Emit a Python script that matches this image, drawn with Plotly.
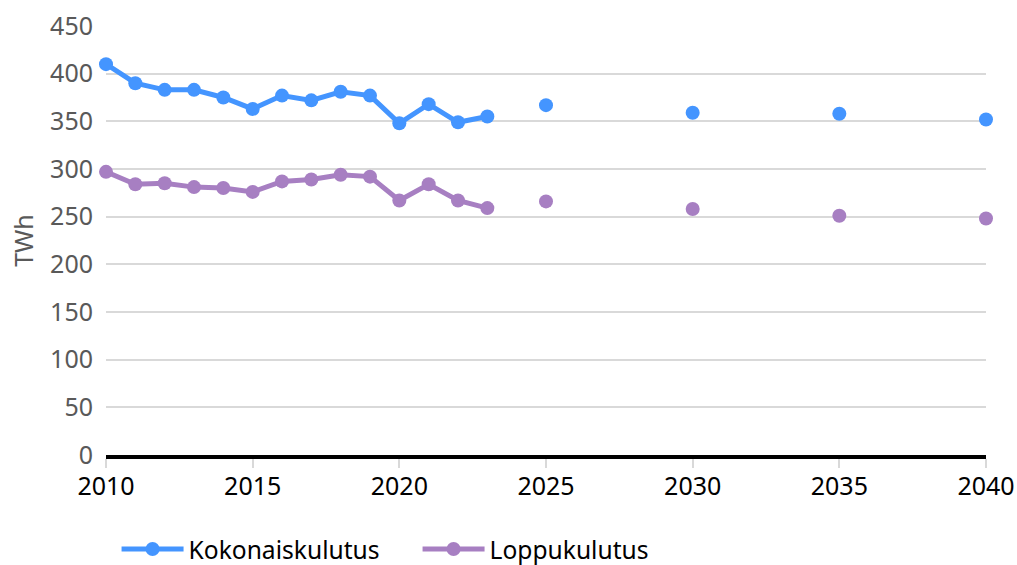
import plotly.graph_objects as go

years_hist = [2010, 2011, 2012, 2013, 2014, 2015, 2016, 2017, 2018, 2019, 2020, 2021, 2022, 2023]
koko_hist = [410, 390, 383, 383, 375, 363, 377, 372, 381, 377, 348, 368, 349, 355]
loppu_hist = [297, 284, 285, 281, 280, 276, 287, 289, 294, 292, 267, 284, 267, 259]

years_proj = [2025, 2030, 2035, 2040]
koko_proj = [367, 359, 358, 352]
loppu_proj = [266, 258, 251, 248]

x_ticks = [2010, 2015, 2020, 2025, 2030, 2035, 2040]
y_ticks = [0, 50, 100, 150, 200, 250, 300, 350, 400, 450]

BLUE = "#4495FF"
PURPLE = "#A77FC2"
FONT = "Noto Sans"

fig = go.Figure()
for name, color, yh, yp in [("Kokonaiskulutus", BLUE, koko_hist, koko_proj),
                             ("Loppukulutus", PURPLE, loppu_hist, loppu_proj)]:
    fig.add_trace(go.Scatter(x=years_hist, y=yh, mode="lines+markers", name=name,
                             line=dict(color=color, width=5),
                             marker=dict(color=color, size=14),
                             cliponaxis=False, legendgroup=name))
    fig.add_trace(go.Scatter(x=years_proj, y=yp, mode="markers", name=name,
                             marker=dict(color=color, size=14),
                             cliponaxis=False, showlegend=False, legendgroup=name))

fig.update_layout(
    width=1017, height=565,
    margin=dict(l=106, r=31, t=26, b=110, autoexpand=False),
    paper_bgcolor="white", plot_bgcolor="white",
    font=dict(family=FONT, size=24, color="#000000"),
    showlegend=True,
    legend=dict(orientation="h", x=0.012, xanchor="left", y=-0.219, yanchor="middle",
                font=dict(size=24.6, color="#000000"), itemwidth=62,
                entrywidth=224, entrywidthmode="pixels",
                traceorder="normal"),
    xaxis=dict(range=[2010, 2040], tickvals=x_ticks, ticktext=[str(v) for v in x_ticks],
               showgrid=False, zeroline=False, automargin=False,
               showline=True, linecolor="#000000", linewidth=4,
               ticks="outside", ticklen=9, tickcolor="#D9D9D9", tickwidth=2,
               ticklabelstandoff=-3, ticklabeloverflow="allow",
               tickfont=dict(size=25, color="#000000")),
    yaxis=dict(range=[0, 450], tickvals=y_ticks, showgrid=True, gridcolor="#D9D9D9",
               gridwidth=2, zeroline=False, showline=False, automargin=False,
               ticklabelstandoff=12, ticklabeloverflow="allow",
               tickfont=dict(size=25, color="#595959"),
               title=dict(text="TWh", font=dict(size=25, color="#595959"), standoff=9)),
)

fig.write_html("out.html", config={"displayModeBar": False},
               post_script="document.body.style.margin='0';document.body.style.overflow='hidden';")
